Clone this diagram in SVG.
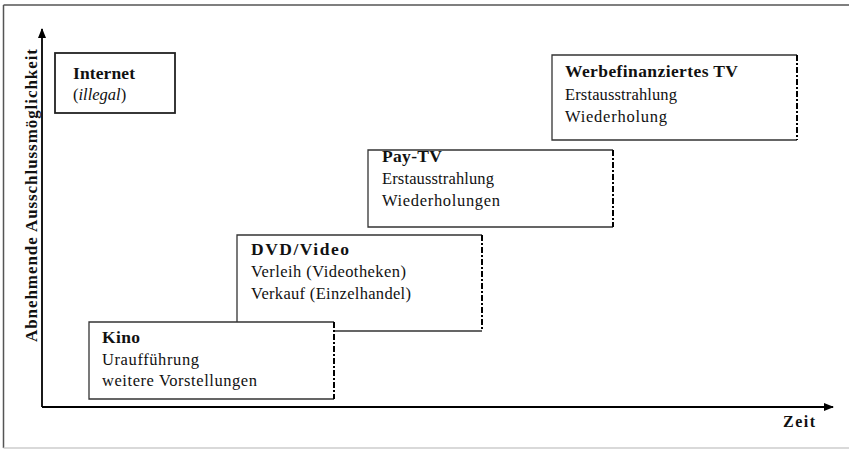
<svg xmlns="http://www.w3.org/2000/svg" width="849" height="450" viewBox="0 0 849 450">
<style>
.t{font-family:"Liberation Serif","Times New Roman",serif;fill:#111;font-size:16.5px}
.b{font-weight:bold;font-size:17.5px}
.i{font-style:italic}
.box{fill:#fff;stroke:#333;stroke-width:1.3}
.edge{stroke:#000;stroke-width:2;stroke-dasharray:6 2 2 2;fill:none}
.ax{stroke:#000;stroke-width:1.8;fill:none}
</style>
<defs>
<marker id="ah" markerWidth="10" markerHeight="10" refX="9" refY="5" orient="auto" markerUnits="userSpaceOnUse">
<path d="M0,1 L10,5 L0,9 Z" fill="#000"/>
</marker>
</defs>
<rect width="849" height="450" fill="#fff"/>
<g id="frame">
<line x1="3.5" y1="5" x2="849" y2="5" stroke="#555" stroke-width="1.5"/>
<line x1="3.5" y1="5" x2="3.5" y2="448" stroke="#555" stroke-width="1.5"/>
<line x1="3.5" y1="448" x2="849" y2="448" stroke="#ccc" stroke-width="1.5"/>
</g>
<g id="connectors">
<line class="ax" x1="42" y1="407" x2="42" y2="29" marker-end="url(#ah)"/>
<line class="ax" x1="42" y1="407" x2="833" y2="407" marker-end="url(#ah)"/>
</g>
<text class="t b" style="font-size:17px" transform="translate(37,342) rotate(-90)" textLength="293" lengthAdjust="spacing">Abnehmende Ausschlussmöglichkeit</text>
<text class="t b" style="font-size:16px" x="783" y="427" textLength="32" lengthAdjust="spacing">Zeit</text>
<g id="internet">
<rect x="55" y="53" width="120" height="60" fill="#fff" stroke="#222" stroke-width="1.8"/>
<text class="t b" x="73" y="79" textLength="62" lengthAdjust="spacing">Internet</text>
<text class="t" x="73" y="100">(<tspan class="i">illegal</tspan>)</text>
</g>
<g id="werbe-tv">
<path class="box" d="M797,55 H552 V140 H797"/>
<line class="edge" x1="797" y1="55" x2="797" y2="140"/>
<text class="t b" x="565" y="77" textLength="173" lengthAdjust="spacing">Werbefinanziertes TV</text>
<text class="t" x="565" y="100" textLength="112" lengthAdjust="spacing">Erstausstrahlung</text>
<text class="t" x="565" y="122" textLength="102" lengthAdjust="spacing">Wiederholung</text>
</g>
<g id="pay-tv">
<path class="box" d="M613,150 H368 V227 H613"/>
<line class="edge" x1="613" y1="150" x2="613" y2="227"/>
<text class="t b" x="382" y="162" textLength="60" lengthAdjust="spacing">Pay-TV</text>
<text class="t" x="382" y="184" textLength="112" lengthAdjust="spacing">Erstausstrahlung</text>
<text class="t" x="382" y="206" textLength="118" lengthAdjust="spacing">Wiederholungen</text>
</g>
<g id="dvd">
<path class="box" d="M482,235 H237 V331 H482"/>
<line class="edge" x1="482" y1="235" x2="482" y2="331"/>
<text class="t b" x="251" y="255" textLength="98" lengthAdjust="spacing">DVD/Video</text>
<text class="t" x="251" y="277" textLength="155" lengthAdjust="spacing">Verleih (Videotheken)</text>
<text class="t" x="251" y="299" textLength="160" lengthAdjust="spacing">Verkauf (Einzelhandel)</text>
</g>
<g id="kino">
<path class="box" d="M334,322 H89 V399 H334"/>
<line class="edge" x1="334" y1="322" x2="334" y2="399"/>
<text class="t b" x="102" y="343" textLength="38" lengthAdjust="spacing">Kino</text>
<text class="t" x="102" y="365" textLength="97" lengthAdjust="spacing">Uraufführung</text>
<text class="t" x="102" y="386" textLength="155" lengthAdjust="spacing">weitere Vorstellungen</text>
</g>
</svg>
